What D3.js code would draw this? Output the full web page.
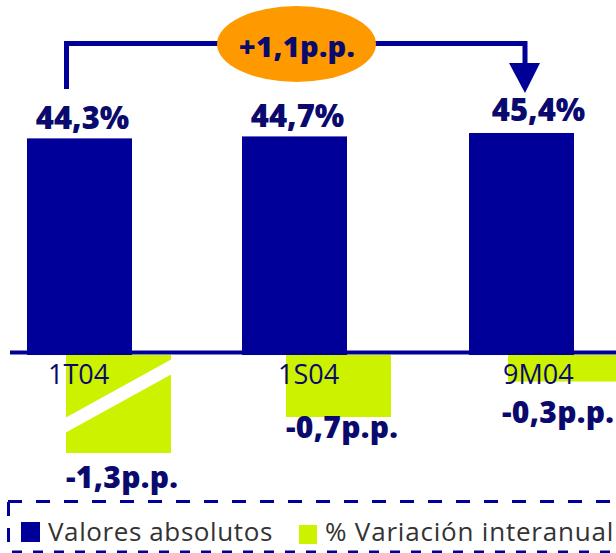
<!DOCTYPE html>
<html>
<head>
<meta charset="utf-8">
<script src="https://cdn.jsdelivr.net/npm/d3@7"></script>
<style>
  body { margin: 0; background: #fff; }
  svg { display: block; }
  text { font-family: "Open Sans", "Noto Sans", sans-serif; }
</style>
</head>
<body>
<div id="chartDiv"></div>
<script>
// periods
var categories = ["1T04", "1S04", "9M04"];
// valores absolutos (%)
var absValues = [44.3, 44.7, 45.4];
var absLabels = ["44,3%", "44,7%", "45,4%"];
// % variacion interanual (p.p.)
var varValues = [-1.3, -0.7, -0.3];
var varLabels = ["-1,3p.p.", "-0,7p.p.", "-0,3p.p."];
// change between first and last period
var totalChange = "+1,1p.p.";
var legendLabels = ["Valores absolutos", "% Variación interanual"];

var W = 616, H = 553;
var BLUE = "#000099", NAVY = "#0a0a6e", GREEN = "#ccf200", ORANGE = "#ff9900";
var baseY = 355;
var barW = 105;

var svg = d3.select("#chartDiv").append("svg")
	.attr("width", W).attr("height", H);

var x = d3.scaleBand()
	.domain(categories)
	.range([27, 27 + 221 * 3])
	.paddingInner(0);

var yAbs = d3.scaleLinear()
	.domain([0, 45.4])
	.range([baseY, 133]);

// broken axis for the variation bars (first bar cut by the white stripe)
var yVar = d3.scaleLinear()
	.domain([0, -0.7, -1.3])
	.range([baseY, 417, 453]);

var xShift = [0, -6, 0];      // small nudges to follow the picture
var greenOff = [39, 44, 39];
var varLabelDy = [35, 21, 41];

function gx(i) { return x(categories[i]) + xShift[i] + greenOff[i]; }

// green bars
svg.selectAll("rect.var")
	.data(varValues)
	.enter().append("rect")
	.attr("class", "var")
	.attr("x", function(d, i) { return gx(i); })
	.attr("y", baseY)
	.attr("width", function(d, i) { return i === 2 ? barW + 3 : barW; })
	.attr("height", function(d) { return yVar(d) - baseY; })
	.attr("fill", GREEN);

// white break stripe on the first variation bar
(function() {
	var sx = gx(0);
	var bottom = yVar(varValues[0]);
	svg.append("polygon")
		.attr("points", [
			[sx - 1, bottom - 35], [sx + barW + 1, bottom - 94],
			[sx + barW + 1, bottom - 79], [sx - 1, bottom - 20]
		].map(function(p) { return p.join(","); }).join(" "))
		.attr("fill", "#fff");
})();

// axis line
svg.append("line")
	.attr("x1", 10).attr("x2", W)
	.attr("y1", 352.5).attr("y2", 352.5)
	.attr("stroke", BLUE).attr("stroke-width", 4);

// blue bars
svg.selectAll("rect.abs")
	.data(absValues)
	.enter().append("rect")
	.attr("class", "abs")
	.attr("x", function(d, i) { return x(categories[i]) + xShift[i]; })
	.attr("y", function(d) { return yAbs(d); })
	.attr("width", barW)
	.attr("height", function(d) { return baseY - yAbs(d); })
	.attr("fill", BLUE);

// value labels
svg.selectAll("text.absLab")
	.data(absValues)
	.enter().append("text")
	.attr("class", "absLab")
	.attr("x", function(d, i) { return x(categories[i]) + xShift[i] + barW / 2 + (i === 2 ? 17 : 3); })
	.attr("y", function(d, i) { return yAbs(d) - (i === 2 ? 12 : 9); })
	.attr("text-anchor", "middle")
	.attr("font-size", 31)
	.attr("font-weight", 800)
	.attr("fill", NAVY)
	.text(function(d, i) { return absLabels[i]; });

// category labels
svg.selectAll("text.cat")
	.data(categories)
	.enter().append("text")
	.attr("class", "cat")
	.attr("x", function(d, i) { return x(d) + xShift[i] + [21, 36, 34][i]; })
	.attr("y", 384)
	.attr("font-size", 27)
	.attr("fill", NAVY)
	.text(function(d) { return d; });

// variation labels
svg.selectAll("text.varLab")
	.data(varValues)
	.enter().append("text")
	.attr("class", "varLab")
	.attr("x", function(d, i) { return gx(i) + (i === 2 ? -6 : 0); })
	.attr("y", function(d, i) { return yVar(d) + varLabelDy[i]; })
	.attr("font-size", 30)
	.attr("font-weight", 800)
	.attr("letter-spacing", 0.3)
	.attr("fill", NAVY)
	.text(function(d, i) { return varLabels[i]; });

// connector from first to last bar
var x0 = x(categories[0]) + 39.5, x1 = x(categories[2]) + 56;
svg.append("path")
	.attr("d", "M" + x0 + ",89 V43.5 H" + x1 + " V66")
	.attr("fill", "none")
	.attr("stroke", BLUE)
	.attr("stroke-width", 5);
svg.append("polygon")
	.attr("points", (x1 - 16) + ",63 " + (x1 + 15) + ",63 " + x1 + ",93")
	.attr("fill", BLUE);

svg.append("ellipse")
	.attr("cx", 296.5).attr("cy", 44)
	.attr("rx", 79.5).attr("ry", 38)
	.attr("fill", ORANGE);
svg.append("text")
	.attr("x", 297).attr("y", 57)
	.attr("text-anchor", "middle")
	.attr("font-size", 29)
	.attr("font-weight", 800)
	.attr("letter-spacing", 0.3)
	.attr("fill", NAVY)
	.text(totalChange);

// legend box (dashed)
svg.append("line")
	.attr("x1", 8).attr("x2", W).attr("y1", 501.5).attr("y2", 501.5)
	.attr("stroke", BLUE).attr("stroke-width", 3).attr("stroke-dasharray", "14,14");
svg.append("line")
	.attr("x1", 8.5).attr("x2", 8.5).attr("y1", 502).attr("y2", H)
	.attr("stroke", BLUE).attr("stroke-width", 3).attr("stroke-dasharray", "14,12");
svg.append("line")
	.attr("x1", 12).attr("x2", W).attr("y1", 552).attr("y2", 552)
	.attr("stroke", BLUE).attr("stroke-width", 3).attr("stroke-dasharray", "10,11");

var legend = svg.append("g");
legend.append("rect").attr("x", 21).attr("y", 522).attr("width", 19).attr("height", 20).attr("fill", BLUE);
legend.append("text").attr("x", 48).attr("y", 541)
	.attr("font-size", 26).attr("letter-spacing", 0.6).attr("fill", "#333")
	.text(legendLabels[0]);
legend.append("rect").attr("x", 299).attr("y", 525).attr("width", 18).attr("height", 19).attr("fill", GREEN);
legend.append("text").attr("x", 325).attr("y", 541)
	.attr("font-size", 26).attr("letter-spacing", 0.8).attr("fill", "#333")
	.text(legendLabels[1]);
</script>
</body>
</html>
